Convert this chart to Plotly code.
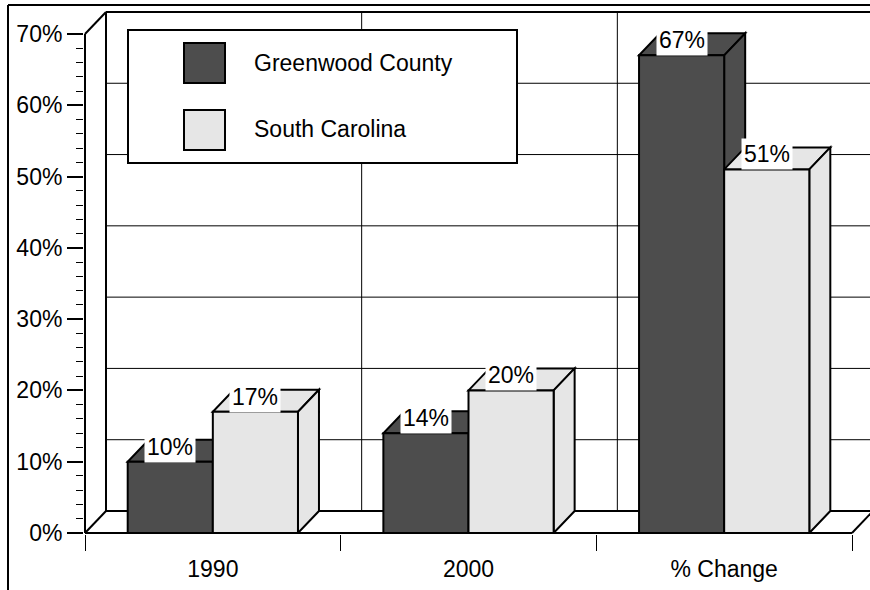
import plotly.graph_objects as go

# ---- data ---------------------------------------------------------------
categories = ["1990", "2000", "% Change"]
series_names = ["Greenwood County", "South Carolina"]
greenwood = [10, 14, 67]
south_carolina = [17, 20, 51]
y_ticks = [0, 10, 20, 30, 40, 50, 60, 70]
y_minor = [v for v in range(0, 71, 2) if v % 10 != 0]

# ---- style --------------------------------------------------------------
DARK = "#4d4d4d"
LIGHT = "#e6e6e6"
FONT = dict(family="Arial, 'Liberation Sans', sans-serif", size=23, color="black")

W, H = 870, 590
PL, PR, PT, PB = 84, 870, 8, 534      # plotting-area edges in pixels
X0_PX, Y0_PX = 85, 533                # pixel position of the front origin
CAT_PX = 255.67                       # pixels per category
PCT_PX = 7.129                        # pixels per percentage point

x_range = [(PL - X0_PX) / CAT_PX, (PR - X0_PX) / CAT_PX]
y_range = [(Y0_PX - PB) / PCT_PX, (Y0_PX - PT) / PCT_PX]

DX = 21 / CAT_PX      # depth of the 3-D extrusion, category units
DY = 22 / PCT_PX      # depth of the 3-D extrusion, percent units
BAR_W = 0.333
YMAX = y_ticks[-1]
NCAT = len(categories)
centers = [i + 0.5 for i in range(NCAT)]

series = [
    (series_names[0], greenwood, DARK, -BAR_W),
    (series_names[1], south_carolina, LIGHT, 0.0),
]


def px_x(p):
    return (p - PL) / (PR - PL)


def px_y(p):
    return (PB - p) / (PB - PT)


def seg(x0, y0, x1, y1, width=1, layer="below"):
    return dict(type="line", xref="x", yref="y", x0=x0, y0=y0, x1=x1, y1=y1,
                line=dict(color="black", width=width), layer=layer)


def face(pts, fill):
    path = "M " + " L ".join(f"{x:.5f},{y:.5f}" for x, y in pts) + " Z"
    return dict(type="path", xref="x", yref="y", path=path, fillcolor=fill,
                line=dict(color="black", width=2), layer="below")


shapes = []

# back-wall grid
for v in y_ticks[1:-1]:
    shapes.append(seg(DX, v + DY, NCAT + DX, v + DY, 1))
for i in range(1, NCAT):
    shapes.append(seg(i + DX, DY, i + DX, YMAX + DY, 1))

# walls and floor outline
shapes += [
    seg(DX, DY, DX, YMAX + DY, 2),
    seg(DX, YMAX + DY, NCAT + DX, YMAX + DY, 2),
    seg(0, YMAX, DX, YMAX + DY, 2),
    seg(0, 0, 0, YMAX, 2),
    seg(0, 0, NCAT, 0, 2),
    seg(DX, DY, NCAT + DX, DY, 2),
    seg(0, 0, DX, DY, 2),
    seg(NCAT, 0, NCAT + DX, DY, 2),
]

# top and side faces of each bar
for i in range(NCAT):
    for name, vals, color, off in series:
        v = vals[i]
        xl = centers[i] + off
        xr = xl + BAR_W
        shapes.append(face([(xl, v), (xr, v), (xr + DX, v + DY), (xl + DX, v + DY)], color))
        shapes.append(face([(xr, 0), (xr, v), (xr + DX, v + DY), (xr + DX, DY)], color))

# legend box and swatches
shapes.append(dict(type="rect", xref="paper", yref="paper",
                   x0=px_x(128), x1=px_x(517), y0=px_y(163), y1=px_y(30),
                   fillcolor="white", line=dict(color="black", width=2), layer="above"))
swatch_rows = [(43, 83, 63), (110, 150, 129)]
for (top, bot, mid), (name, vals, color, off) in zip(swatch_rows, series):
    shapes.append(dict(type="rect", xref="paper", yref="paper",
                       x0=px_x(184), x1=px_x(225), y0=px_y(bot), y1=px_y(top),
                       fillcolor=color, line=dict(color="black", width=2), layer="above"))

# outer frame (top and left edges)
shapes.append(dict(type="line", xref="paper", yref="paper",
                   x0=px_x(8), x1=px_x(872), y0=px_y(5), y1=px_y(5),
                   line=dict(color="black", width=2), layer="above"))
shapes.append(dict(type="line", xref="paper", yref="paper",
                   x0=px_x(8), x1=px_x(8), y0=px_y(5), y1=px_y(592),
                   line=dict(color="black", width=2), layer="above"))

fig = go.Figure()
for name, vals, color, off in series:
    fig.add_trace(go.Bar(
        x=centers, y=vals, name=name, width=BAR_W, offset=off,
        marker=dict(color=color, line=dict(color="black", width=2)),
        showlegend=False, hoverinfo="skip",
    ))

annotations = []
for name, vals, color, off in series:
    for i, v in enumerate(vals):
        annotations.append(dict(
            x=centers[i] + off + BAR_W / 2, y=v, xref="x", yref="y",
            text=f"{v}%", showarrow=False, yshift=15,
            bgcolor="white", borderpad=2, font=FONT,
        ))
for (top, bot, mid), (name, vals, color, off) in zip(swatch_rows, series):
    annotations.append(dict(
        x=px_x(252), y=px_y(mid), xref="paper", yref="paper",
        text=name, showarrow=False, xanchor="left", yanchor="middle", font=FONT,
    ))

fig.update_layout(
    width=W, height=H,
    margin=dict(l=PL, r=W - PR, t=PT, b=H - PB, pad=0),
    paper_bgcolor="white", plot_bgcolor="white",
    barmode="overlay",
    font=FONT,
    shapes=shapes,
    annotations=annotations,
    xaxis=dict(
        range=x_range, showgrid=False, zeroline=False, showline=False,
        tickmode="array", tickvals=centers, ticktext=categories, ticks="",
        tickfont=FONT, ticklabelstandoff=19,
        minor=dict(tickmode="array", tickvals=list(range(NCAT + 1)),
                   ticks="outside", ticklen=16, tickwidth=1, tickcolor="black"),
    ),
    yaxis=dict(
        range=y_range, showgrid=False, zeroline=False, showline=False,
        tickmode="array", tickvals=y_ticks, ticktext=[f"{v}%" for v in y_ticks],
        ticks="outside", ticklen=16, tickwidth=2, tickcolor="black",
        tickfont=FONT,
        minor=dict(tickmode="array", tickvals=y_minor,
                   ticks="outside", ticklen=7, tickwidth=1, tickcolor="black"),
    ),
)

fig.write_html("out.html")
